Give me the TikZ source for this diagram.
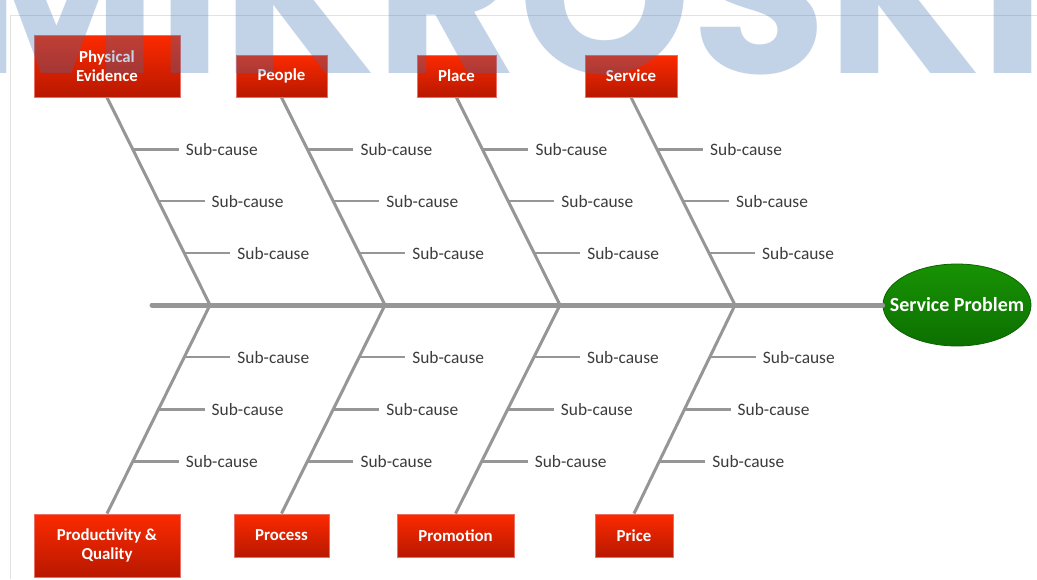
\documentclass[tikz,border=0pt]{standalone}
\usepackage{fontspec}
\setmainfont{Carlito}
\newfontfamily\wmfont{Poppins}
\usetikzlibrary{shapes.geometric}
\definecolor{bone}{RGB}{150,150,150}
\definecolor{boxtop}{RGB}{252,42,0}
\definecolor{boxbot}{RGB}{184,24,0}
\definecolor{boxline}{RGB}{236,110,100}
\definecolor{gtop}{RGB}{24,146,4}
\definecolor{gbot}{RGB}{12,112,0}
\definecolor{gline}{RGB}{10,100,0}
\definecolor{subtxt}{RGB}{60,60,60}
\definecolor{frame}{RGB}{226,226,226}
\definecolor{wm}{RGB}{58,112,178}
\tikzset{
  catbox/.style={rectangle, draw=boxline, line width=0.8pt, top color=boxtop, bottom color=boxbot,
    text=white, font=\fontsize{16.8}{19}\selectfont\bfseries, align=center, inner sep=0pt},
  effect/.style={ellipse, draw=gline, line width=0.8pt, top color=gtop, bottom color=gbot,
    inner sep=0pt, minimum width=148pt, minimum height=82pt},
  efftext/.style={text=white, font=\fontsize{20}{23}\selectfont\bfseries, inner sep=0pt},
  bonel/.style={draw=bone, line width=3pt},
  tickl/.style={draw=bone, line width=2.4pt},
  spinel/.style={draw=bone, line width=5pt, line cap=round},
  subc/.style={anchor=west, inner xsep=7pt, inner ysep=0pt, text=subtxt,
    font=\fontsize{17.4}{20}\selectfont},
  framel/.style={draw=frame, line width=1pt}
}
\begin{document}
\begin{tikzpicture}[x=1pt,y=-1pt]
\useasboundingbox (0,0) rectangle (1037,579);
\fill[white] (0,0) rectangle (1037,579);
% frame
\coordinate (f0) at (10,15);
\coordinate (f1) at (1037,15);
\coordinate (f2) at (10,579);
\draw[framel] (f2) -- (f0) -- (f1);
% effect
\node[effect] (eff) at (957,305) {};
\node[efftext] (efft) at (eff.center) {Service Problem};
\coordinate (tail) at (152,305);
\draw[spinel] (tail) -- (eff.west);
% junctions
\foreach \i/\x in {1/210,2/385,3/560,4/735}{\coordinate (J\i) at (\x,305);}
% top boxes
\node[catbox, minimum width=146pt, minimum height=62pt] (c1) at (107,66) {Physical\\Evidence};
\node[catbox, minimum width=91pt, minimum height=42pt] (c2) at (281.5,76) {People};
\node[catbox, minimum width=79pt, minimum height=42pt] (c3) at (456.5,76) {Place};
\node[catbox, minimum width=92pt, minimum height=42pt] (c4) at (631,76) {Service};
% bottom boxes
\node[catbox, minimum width=146pt, minimum height=63pt] (d1) at (107,545.5) {Productivity \&\\Quality};
\node[catbox, minimum width=95pt, minimum height=43pt] (d2) at (281.5,535.5) {Process};
\node[catbox, minimum width=117pt, minimum height=43pt] (d3) at (455.5,535.5) {Promotion};
\node[catbox, minimum width=78pt, minimum height=43pt] (d4) at (634,535.5) {Price};
% bones and sub-causes
\foreach \i in {1,2,3,4}{
  \draw[bonel] (c\i.south) -- (J\i);
  \draw[bonel] (J\i) -- (d\i.north);
  \foreach \k/\p in {a/0.25,b/0.5,c/0.75}{
    \path (c\i.south) -- (J\i) coordinate[pos=\p] (tu\i\k);
    \node[subc] (lu\i\k) at ([xshift=46pt]tu\i\k) {Sub-cause};
    \draw[tickl] (tu\i\k) -- (lu\i\k.west);
    \path (J\i) -- (d\i.north) coordinate[pos=\p] (td\i\k);
    \node[subc] (ld\i\k) at ([xshift=46pt]td\i\k) {Sub-cause};
    \draw[tickl] (td\i\k) -- (ld\i\k.west);
  }
}
% watermark
\begin{scope}
\clip (0,0) rectangle (1037,579);
\node[anchor=base west, inner sep=0pt, text=wm, opacity=0.3,
  font=\wmfont\bfseries\fontsize{220}{225}\selectfont] (wmk) at (-45,73) {MIKROSKIL};
\end{scope}
\end{tikzpicture}
\end{document}
